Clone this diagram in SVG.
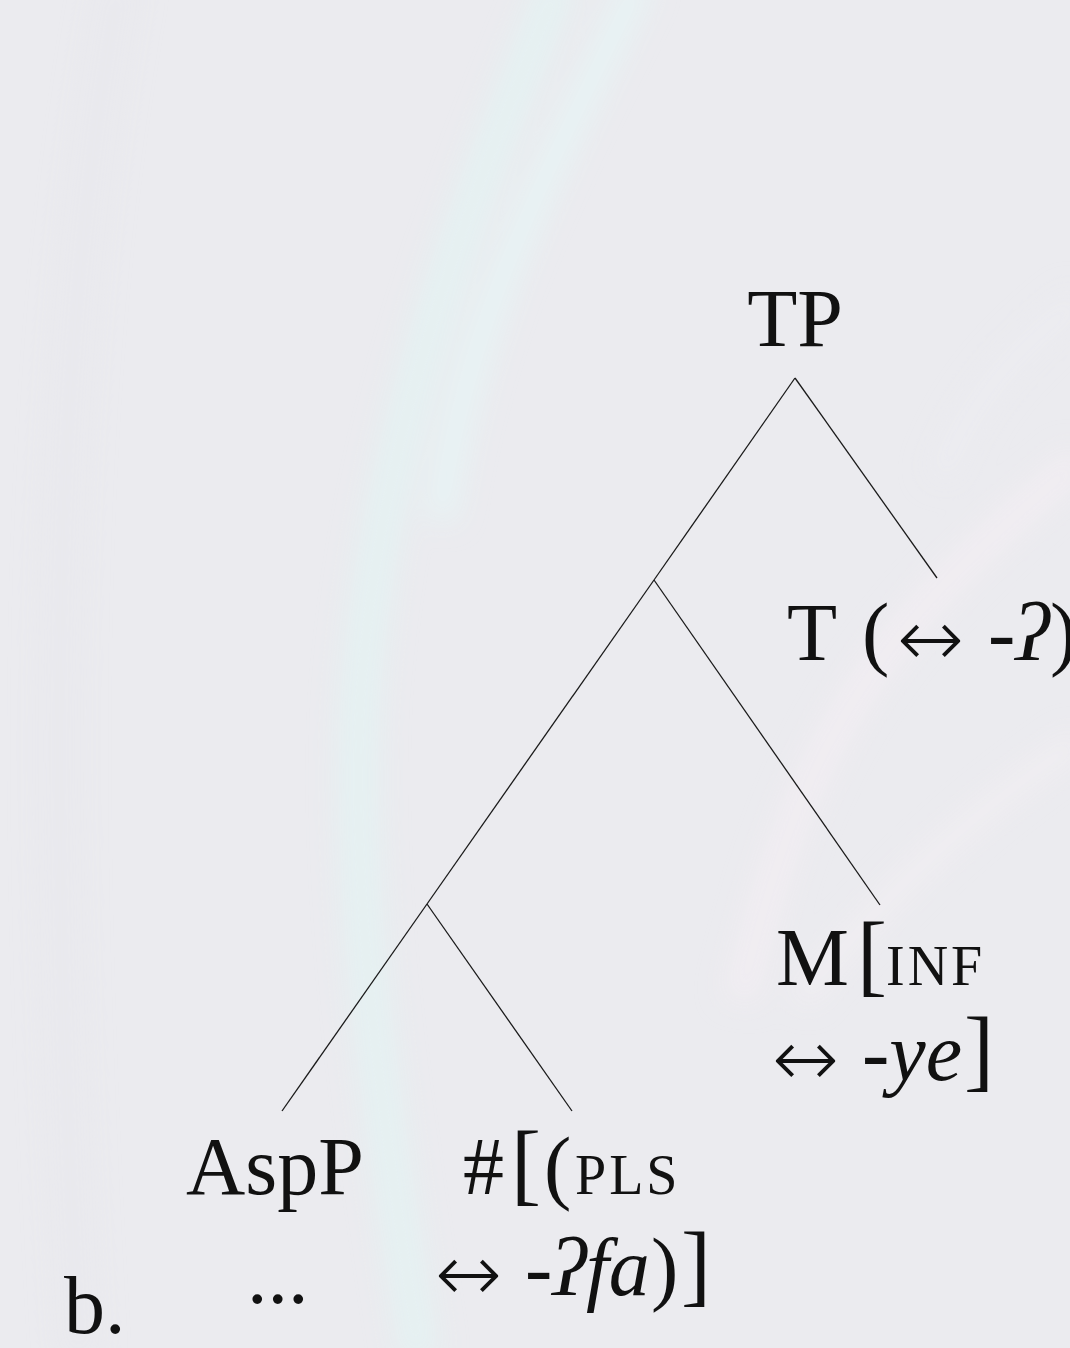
<svg xmlns="http://www.w3.org/2000/svg" width="1070" height="1348" viewBox="0 0 1070 1348">
<style>
.lbl{font-family:"Liberation Serif","DejaVu Serif",serif;font-size:82px;fill:#111;}
.it{font-style:italic;}
.sc{font-size:56px;letter-spacing:3px;}
.br{font-size:90px;}
.ar{font-family:"DejaVu Sans","Liberation Sans",sans-serif;font-size:80px;font-weight:200;}
.edge{stroke:#1a1a1a;stroke-width:1.3;fill:none;}
</style>
<defs>
<filter id="blur" x="-20%" y="-20%" width="140%" height="140%"><feGaussianBlur stdDeviation="14"/></filter>
</defs>
<rect x="0" y="0" width="1070" height="1348" fill="#ebebef"/>
<g id="background" filter="url(#blur)" fill="none">
<path d="M560 -20 C470 200 380 420 360 700 C350 900 380 1100 420 1360" stroke="#e3f3f3" stroke-width="40" opacity="0.8"/>
<path d="M640 -20 C560 150 470 300 440 520" stroke="#e6f6f6" stroke-width="30" opacity="0.7"/>
<path d="M1080 460 C960 560 880 640 820 760 C780 840 760 920 740 1000" stroke="#f2eef2" stroke-width="34" opacity="0.8"/>
<path d="M1080 740 C960 820 880 900 800 1000" stroke="#f3eff3" stroke-width="24" opacity="0.7"/>
<path d="M1080 300 C1000 360 960 420 940 480" stroke="#ededf1" stroke-width="30" opacity="0.6"/>
<path d="M120 -20 C60 300 40 700 80 1360" stroke="#e8e8ec" stroke-width="40" opacity="0.6"/>
</g>
<g id="connectors">
<line class="edge" x1="795" y1="378" x2="937" y2="578"/>
<line class="edge" x1="795" y1="378" x2="654" y2="580"/>
<line class="edge" x1="654" y1="580" x2="880" y2="905"/>
<line class="edge" x1="654" y1="580" x2="427" y2="904"/>
<line class="edge" x1="427" y1="904" x2="282" y2="1111"/>
<line class="edge" x1="427" y1="904" x2="572" y2="1111"/>
</g>
<g id="node-TP"><text class="lbl" x="795" y="346" text-anchor="middle">TP</text></g>
<g id="node-T"><text class="lbl" y="660"><tspan x="787">T</tspan><tspan x="862">(</tspan><tspan class="ar" x="897" y="666">↔</tspan><tspan class="it" x="988" y="660">-ʔ</tspan><tspan x="1050">)</tspan></text></g>
<g id="node-M">
<text class="lbl" y="985"><tspan x="776">M</tspan><tspan class="br" x="857">[</tspan><tspan class="sc" x="886">INF</tspan></text>
<text class="lbl" y="1080"><tspan class="ar" x="772" y="1086">↔</tspan><tspan class="it" x="862" y="1080">-ye</tspan><tspan class="br" x="964">]</tspan></text>
</g>
<g id="node-AspP">
<text class="lbl" x="186" y="1194">AspP</text>
<text class="lbl" x="247" y="1303">...</text>
</g>
<g id="node-Num">
<text class="lbl" y="1194"><tspan x="463">#</tspan><tspan class="br" x="511">[</tspan><tspan x="544">(</tspan><tspan class="sc" x="575">PLS</tspan></text>
<text class="lbl" y="1295"><tspan class="ar" x="435" y="1301">↔</tspan><tspan class="it" x="525" y="1295">-ʔfa</tspan><tspan x="651">)</tspan><tspan class="br" x="681">]</tspan></text>
</g>
<g id="label-b"><text class="lbl" x="64" y="1333">b.</text></g>
</svg>
